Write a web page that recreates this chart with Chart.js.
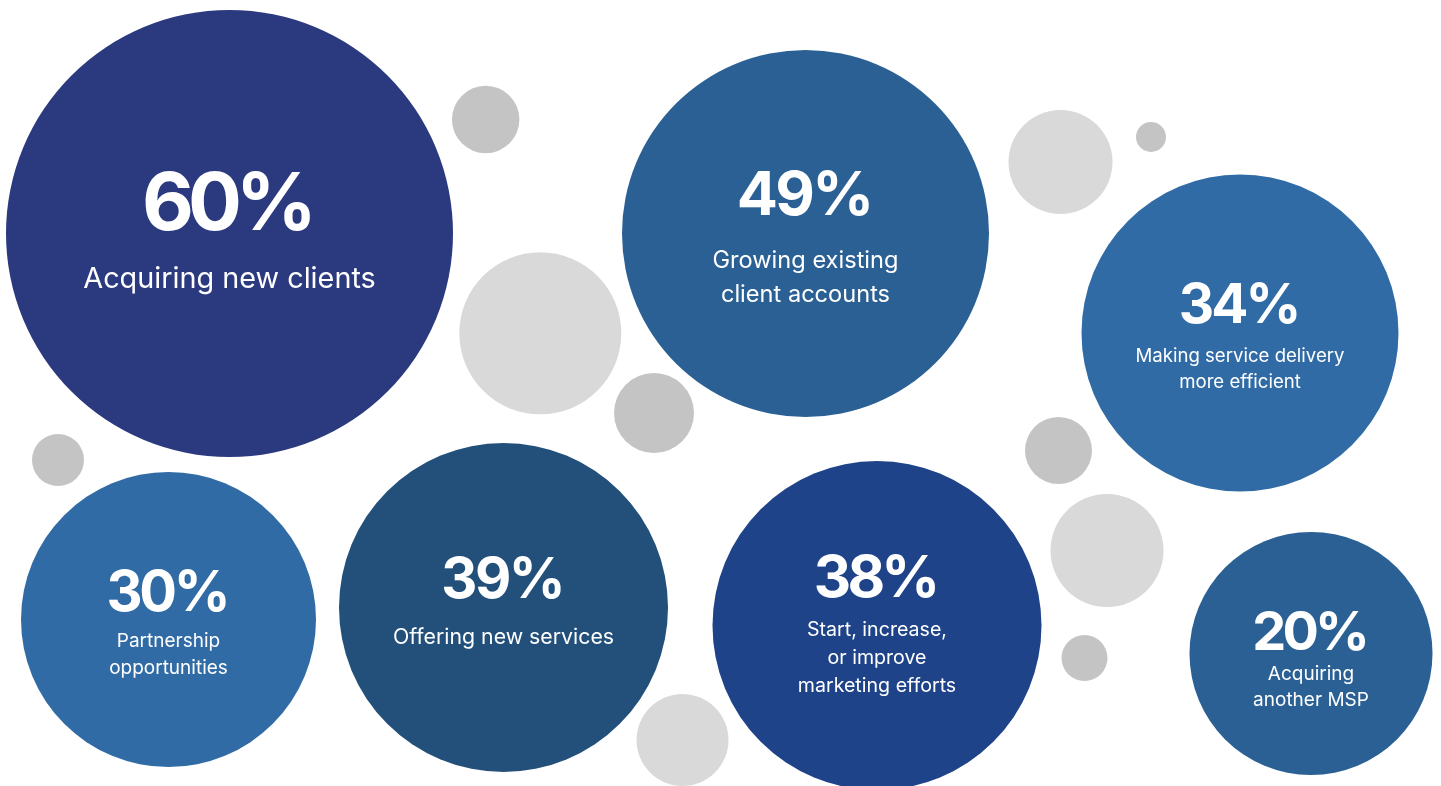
<!DOCTYPE html>
<html>
<head>
<meta charset="utf-8">
<title>MSP priorities</title>
<script src="https://cdn.jsdelivr.net/npm/chart.js@4.4.1/dist/chart.umd.min.js"></script>
<style>
  html, body { margin: 0; padding: 0; background: #ffffff; overflow: hidden; }
  #wrap { width: 1441px; height: 786px; position: relative; }
</style>
</head>
<body>
<div id="wrap"><canvas id="chart" width="1441" height="786"></canvas></div>
<script>
// Survey answers: share of respondents per priority
const categories = [
  ["Acquiring new clients"],
  ["Growing existing", "client accounts"],
  ["Making service delivery", "more efficient"],
  ["Partnership", "opportunities"],
  ["Offering new services"],
  ["Start, increase,", "or improve", "marketing efforts"],
  ["Acquiring", "another MSP"]
];
const values = [60, 49, 34, 30, 39, 38, 20];

// Bubble placement on the canvas grid (x, y) and bubble radius
const bubbleX = [229.5, 805.5, 1240, 168.5, 503.5, 877, 1311];
const bubbleY = [233.5, 233.5, 333, 619.5, 607.5, 625.5, 653.5];
const bubbleR = [223.5, 183.5, 158.5, 147.5, 164.5, 164.5, 121.5];

// Decorative grey dots
const dotX = [485.7, 540.3, 654, 58, 1060.5, 1151, 1058.5, 1107, 1084.5, 682.5];
const dotY = [119.5, 333.3, 413, 460, 162, 137, 450.5, 550.5, 658, 740];
const dotR = [33.7, 81, 40, 26, 52, 15, 33.5, 56.5, 23, 46];
const dotTone = ["dark", "light", "dark", "dark", "light", "dark", "dark", "light", "dark", "light"];

// Styling
const bubbleColors = ["#2b397f", "#2a6094", "#316ba5", "#316ba5", "#22507b", "#1f4389", "#2a6094"];
const toneColors = { dark: "#c4c4c4", light: "#d9d9d9" };
// valueTrack is in em and tightens the big percentages
const textStyle = [
  { valueSize: 80, valueTrack: -0.075, valueBase: -3.5,  labelSize: 28.8, labelBase: 54.5, lineGap: 34 },
  { valueSize: 61, valueTrack: -0.045, valueBase: -18.5, labelSize: 23.6, labelBase: 34.5, lineGap: 34 },
  { valueSize: 55, valueTrack: -0.055, valueBase: -10,   labelSize: 18.6, labelBase: 29,   lineGap: 26 },
  { valueSize: 56, valueTrack: -0.06,  valueBase: -8.5,  labelSize: 19,   labelBase: 27.5, lineGap: 27 },
  { valueSize: 56, valueTrack: -0.045, valueBase: -10,   labelSize: 21.3, labelBase: 36.5, lineGap: 28 },
  { valueSize: 58, valueTrack: -0.065, valueBase: -28.5, labelSize: 19.6, labelBase: 10.5, lineGap: 28 },
  { valueSize: 54, valueTrack: -0.07,  valueBase: -3.5,  labelSize: 19,   labelBase: 26.5, lineGap: 26 }
];

const mainPoints = values.map((v, i) => ({ x: bubbleX[i], y: bubbleY[i], r: bubbleR[i], v }));
const dotPoints = dotX.map((x, i) => ({ x, y: dotY[i], r: dotR[i] }));

// Writes the percentage and the category under it inside each coloured bubble
const bubbleText = {
  id: "bubbleText",
  afterDatasetsDraw(chart) {
    const meta = chart.getDatasetMeta(0);
    const ctx = chart.ctx;
    ctx.save();
    ctx.fillStyle = "#ffffff";
    ctx.textAlign = "center";
    ctx.textBaseline = "alphabetic";
    meta.data.forEach((el, i) => {
      const s = textStyle[i];
      const p = el.getProps(["x", "y"], true);
      const track = s.valueTrack * s.valueSize;
      ctx.font = `700 ${s.valueSize}px Inter`;
      ctx.letterSpacing = `${track}px`;
      // trailing spacing is counted in the centred width, so shift back by half of it
      ctx.fillText(values[i] + "%", p.x + track / 2, p.y + s.valueBase);
      ctx.letterSpacing = "0px";
      ctx.font = `400 ${s.labelSize}px Inter`;
      categories[i].forEach((line, k) => {
        ctx.fillText(line, p.x, p.y + s.labelBase + k * s.lineGap);
      });
    });
    ctx.restore();
  }
};

function draw() {
  new Chart(document.getElementById("chart"), {
    type: "bubble",
    data: {
      datasets: [
        {
          label: "Priorities",
          data: mainPoints,
          backgroundColor: bubbleColors,
          borderWidth: 0,
          hoverBorderWidth: 0,
          hoverRadius: 0,
          clip: false,
          order: 1
        },
        {
          label: "Decoration",
          data: dotPoints,
          backgroundColor: dotTone.map(t => toneColors[t]),
          borderWidth: 0,
          hoverBorderWidth: 0,
          hoverRadius: 0,
          clip: false,
          order: 2
        }
      ]
    },
    options: {
      responsive: false,
      animation: false,
      events: [],
      layout: { padding: 0, autoPadding: false },
      plugins: { legend: { display: false }, tooltip: { enabled: false } },
      scales: {
        x: { type: "linear", min: 0, max: 1441, display: false },
        y: { type: "linear", min: 0, max: 786, reverse: true, display: false }
      }
    },
    plugins: [bubbleText]
  });
}

Promise.all([
  document.fonts.load("700 60px Inter"),
  document.fonts.load("400 20px Inter")
]).then(draw, draw);
</script>
</body>
</html>
